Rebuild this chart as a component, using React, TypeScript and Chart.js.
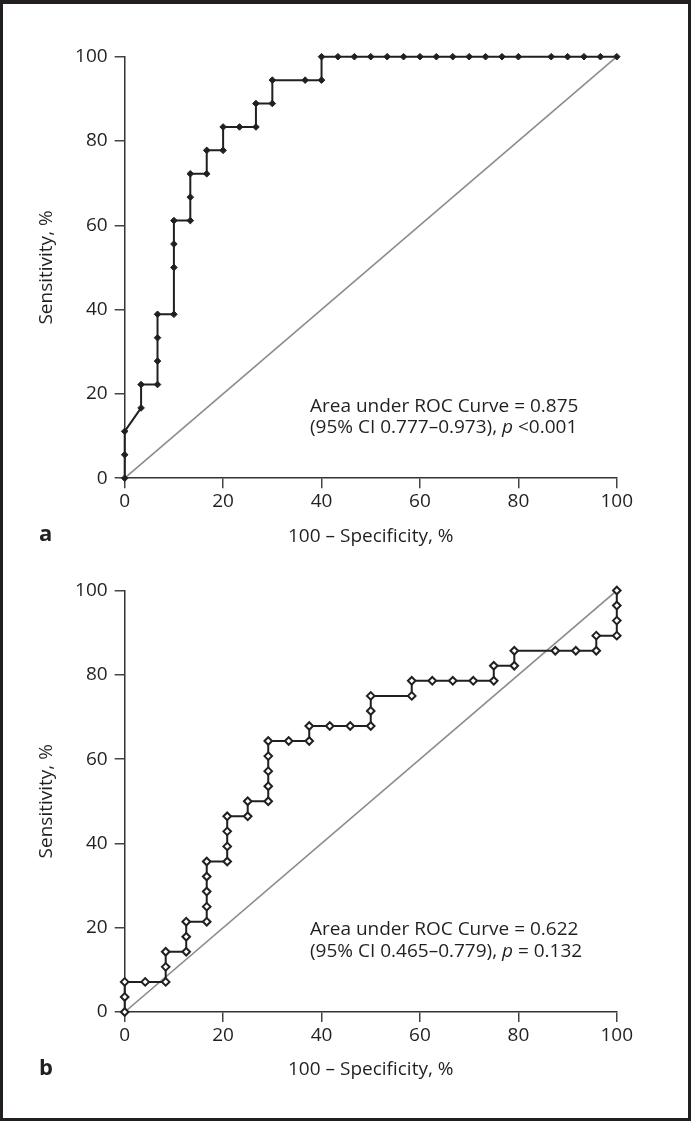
import React, { useEffect, useRef } from "react";
import { Chart, registerables } from "chart.js";

Chart.register(...registerables);

// ---------- data ----------
const axisTicks = [0, 20, 40, 60, 80, 100];

// Panel a: ROC curve (100 - specificity, sensitivity)
const rocAX = [
  0, 0, 0, 3.33, 3.33, 6.67, 6.67, 6.67, 6.67, 10, 10, 10, 10, 13.33, 13.33, 13.33,
  16.67, 16.67, 20, 20, 23.33, 26.67, 26.67, 30, 30, 36.67, 40, 40,
  43.33, 46.67, 50, 53.33, 56.67, 60, 63.33, 66.67, 70, 73.33, 76.67, 80,
  86.67, 90, 93.33, 96.67, 100,
];
const rocAY = [
  0, 5.56, 11.11, 16.67, 22.22, 22.22, 27.78, 33.33, 38.89, 38.89, 50, 55.56, 61.11, 61.11, 66.67, 72.22,
  72.22, 77.78, 77.78, 83.33, 83.33, 83.33, 88.89, 88.89, 94.44, 94.44, 94.44, 100,
  100, 100, 100, 100, 100, 100, 100, 100, 100, 100, 100, 100,
  100, 100, 100, 100, 100,
];

// Panel b
const rocBX = [
  0, 0, 0, 4.17, 8.33, 8.33, 8.33, 12.5, 12.5, 12.5, 16.67, 16.67, 16.67, 16.67, 16.67,
  20.83, 20.83, 20.83, 20.83, 25, 25, 29.17, 29.17, 29.17, 29.17, 29.17, 33.33, 37.5, 37.5,
  41.67, 45.83, 50, 50, 50, 58.33, 58.33, 62.5, 66.67, 70.83, 75, 75, 79.17, 79.17,
  87.5, 91.67, 95.83, 95.83, 100, 100, 100, 100,
];
const rocBY = [
  0, 3.57, 7.14, 7.14, 7.14, 10.71, 14.29, 14.29, 17.86, 21.43, 21.43, 25, 28.57, 32.14, 35.71,
  35.71, 39.29, 42.86, 46.43, 46.43, 50, 50, 53.57, 57.14, 60.71, 64.29, 64.29, 64.29, 67.86,
  67.86, 67.86, 67.86, 71.43, 75, 75, 78.57, 78.57, 78.57, 78.57, 78.57, 82.14, 82.14, 85.71,
  85.71, 85.71, 85.71, 89.29, 89.29, 92.86, 96.43, 100,
];

const refX = [0, 100];
const refY = [0, 100];

const yTitle = "Sensitivity, %";
const xTitle = "100 \u2013 Specificity, %";

const annotA1 = "Area under ROC Curve = 0.875";
const annotA2 = [
  { text: "(95% CI 0.777\u20130.973), ", italic: false },
  { text: "p", italic: true },
  { text: " <0.001", italic: false },
];
const annotB1 = "Area under ROC Curve = 0.622";
const annotB2 = [
  { text: "(95% CI 0.465\u20130.779), ", italic: false },
  { text: "p", italic: true },
  { text: " = 0.132", italic: false },
];

// ---------- styles ----------
const FONT = '"Open Sans", "DejaVu Sans", sans-serif';
const TEXT = "#231f20";
const LINE = "#231f20";

type Seg = { text: string; italic: boolean };

type PanelCfg = {
  top: number;
  height: number;
  padTop: number;
  xAxisH: number;
  xs: number[];
  ys: number[];
  filled: boolean;
  letter: string;
  line1: string;
  line2: Seg[];
  annotY1: number;
  annotY2: number;
};

const W = 691;
const Y_AXIS_W = 124.7;
const PAD_RIGHT = 691 - 616.8;

function Panel(props: PanelCfg) {
  const ref = useRef<HTMLCanvasElement | null>(null);
  useEffect(() => {
    const canvas = ref.current!;
    const p = props;
    const textPlugin = {
      id: "texts" + p.letter,
      afterDraw(chart: any) {
        const { ctx, chartArea: a } = chart;
        ctx.save();
        ctx.fillStyle = TEXT;
        ctx.font = `19px ${FONT}`;
        ctx.textAlign = "center";
        ctx.textBaseline = "middle";
        ctx.save();
        ctx.translate(47, (a.top + a.bottom) / 2);
        ctx.rotate(-Math.PI / 2);
        ctx.fillText(yTitle, 0, 0);
        ctx.restore();
        ctx.fillText(xTitle, (a.left + a.right) / 2, a.bottom + 58);
        ctx.font = `bold 22px ${FONT}`;
        ctx.textAlign = "left";
        ctx.fillText(p.letter, 39, a.bottom + 57);
        ctx.textBaseline = "alphabetic";
        ctx.font = `19px ${FONT}`;
        const x0 = 310;
        ctx.fillText(p.line1, x0, p.annotY1);
        let x = x0;
        for (const s of p.line2) {
          ctx.font = `${s.italic ? "italic " : ""}19px ${FONT}`;
          ctx.fillText(s.text, x, p.annotY2);
          x += ctx.measureText(s.text).width;
        }
        ctx.restore();
      },
    };

    const axisCommon = {
      type: "linear" as const,
      min: 0,
      max: 100,
      grid: {
        display: true,
        drawOnChartArea: false,
        drawTicks: true,
        tickLength: 10,
        color: "#444",
        lineWidth: 1.5,
      },
      border: { display: true, color: "#333", width: 1.5 },
    };

    const chart = new Chart(canvas, {
      type: "line",
      data: {
        datasets: [
          {
            data: p.xs.map((x, i) => ({ x, y: p.ys[i] })),
            borderColor: LINE,
            borderWidth: 2,
            pointStyle: "rectRot",
            pointRadius: p.filled ? 3.3 : 3.8,
            pointBorderWidth: p.filled ? 1 : 2,
            pointBackgroundColor: p.filled ? LINE : "#ffffff",
            pointBorderColor: LINE,
            tension: 0,
            clip: false,
          } as any,
          {
            data: refX.map((x, i) => ({ x, y: refY[i] })),
            borderColor: "#8c8c8c",
            borderWidth: 1.6,
            pointRadius: 0,
            tension: 0,
          },
        ],
      },
      options: {
        animation: false,
        responsive: false,
        maintainAspectRatio: false,
        parsing: false as any,
        layout: { padding: { left: 0, top: p.padTop, right: PAD_RIGHT, bottom: 0 } },
        plugins: { legend: { display: false }, tooltip: { enabled: false }, title: { display: false } },
        scales: {
          x: {
            ...axisCommon,
            position: "bottom",
            afterFit: (s: any) => {
              s.height = p.xAxisH;
            },
            afterBuildTicks: (s: any) => {
              s.ticks = axisTicks.map((v) => ({ value: v }));
            },
            ticks: { color: TEXT, font: { family: FONT, size: 19 }, padding: 2, autoSkip: false, maxRotation: 0 },
          },
          y: {
            ...axisCommon,
            position: "left",
            afterFit: (s: any) => {
              s.width = Y_AXIS_W;
            },
            afterBuildTicks: (s: any) => {
              s.ticks = axisTicks.map((v) => ({ value: v }));
            },
            ticks: { color: TEXT, font: { family: FONT, size: 19 }, padding: 7, autoSkip: false },
          },
        } as any,
      },
      plugins: [textPlugin],
    });
    return () => chart.destroy();
  }, []);
  return (
    <canvas
      ref={ref}
      width={W}
      height={props.height}
      style={{ position: "absolute", left: 0, top: props.top, width: W, height: props.height }}
    />
  );
}

export default function App() {
  return (
    <div style={{ position: "absolute", left: 0, top: 0, width: 691, height: 1121, background: "#fff" }}>
      <Panel
        top={0}
        height={560}
        padTop={56.7}
        xAxisH={560 - 478.2}
        xs={rocAX}
        ys={rocAY}
        filled={true}
        letter="a"
        line1={annotA1}
        line2={annotA2}
        annotY1={411.5}
        annotY2={433}
      />
      <Panel
        top={560}
        height={561}
        padTop={30.5}
        xAxisH={561 - 452}
        xs={rocBX}
        ys={rocBY}
        filled={false}
        letter="b"
        line1={annotB1}
        line2={annotB2}
        annotY1={375}
        annotY2={397}
      />
      <div
        style={{
          position: "absolute",
          left: 0,
          top: 0,
          width: 691,
          height: 1121,
          boxSizing: "border-box",
          borderStyle: "solid",
          borderColor: "#231f20",
          borderWidth: "4px 3px 3px 3px",
          pointerEvents: "none",
        }}
      />
    </div>
  );
}
